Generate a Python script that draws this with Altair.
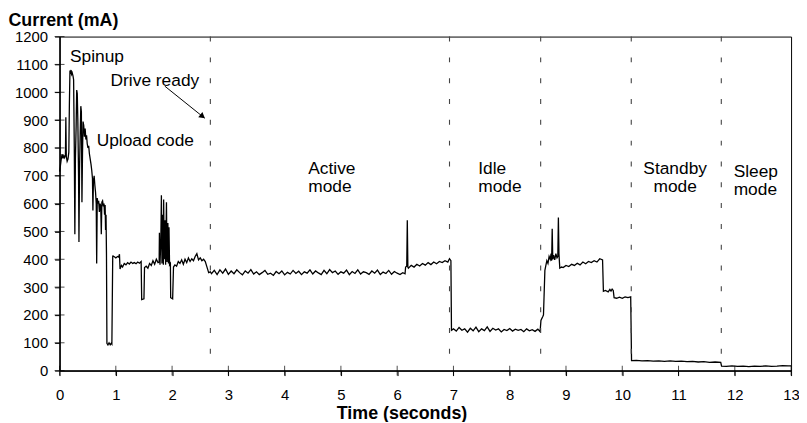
import altair as alt
import pandas as pd

# ---- measured trace (time in s, current in mA) ----
time_s = [
    0.000, 0.015, 0.030, 0.045, 0.060, 0.075, 0.090, 0.105, 0.112, 0.120,
    0.135, 0.150, 0.165, 0.175, 0.185, 0.195, 0.205, 0.215, 0.225, 0.240,
    0.250, 0.262, 0.272, 0.282, 0.295, 0.305, 0.315, 0.325, 0.338, 0.345,
    0.355, 0.368, 0.378, 0.388, 0.398, 0.408, 0.418, 0.430, 0.442, 0.455,
    0.468, 0.480, 0.492, 0.505, 0.518, 0.530, 0.545, 0.560, 0.572, 0.585,
    0.593, 0.602, 0.615, 0.628, 0.640, 0.652, 0.660, 0.670, 0.682, 0.695,
    0.708, 0.720, 0.732, 0.742, 0.752, 0.765, 0.778, 0.790, 0.800, 0.810,
    0.818, 0.826, 0.834, 0.842, 0.860, 0.880, 0.900, 0.918, 0.930, 0.945,
    0.950, 0.980, 1.000, 1.030, 1.050, 1.065, 1.075, 1.100, 1.120, 1.150,
    1.180, 1.210, 1.240, 1.270, 1.300, 1.330, 1.360, 1.390, 1.420, 1.450,
    1.460, 1.500, 1.510, 1.540, 1.570, 1.600, 1.630, 1.660, 1.690, 1.720,
    1.750, 1.770, 1.775, 1.785, 1.800, 1.810, 1.820, 1.830, 1.845, 1.850,
    1.860, 1.875, 1.885, 1.900, 1.910, 1.925, 1.935, 1.945, 1.955, 1.970,
    1.975, 2.010, 2.025, 2.050, 2.080, 2.110, 2.140, 2.170, 2.200, 2.230,
    2.260, 2.290, 2.320, 2.350, 2.380, 2.410, 2.440, 2.470, 2.500, 2.530,
    2.560, 2.590, 2.620, 2.650, 2.680,
    2.70, 2.75, 2.80, 2.85, 2.90, 2.95, 3.00, 3.05, 3.10, 3.15,
    3.20, 3.25, 3.30, 3.35, 3.40, 3.45, 3.50, 3.55, 3.60, 3.65,
    3.70, 3.75, 3.80, 3.85, 3.90, 3.95, 4.00, 4.05, 4.10, 4.15,
    4.20, 4.25, 4.30, 4.35, 4.40, 4.45, 4.50, 4.55, 4.60, 4.65,
    4.70, 4.75, 4.80, 4.85, 4.90, 4.95, 5.00, 5.05, 5.10, 5.15,
    5.20, 5.25, 5.30, 5.35, 5.40, 5.45, 5.50, 5.55, 5.60, 5.65,
    5.70, 5.75, 5.80, 5.85, 5.90, 5.95, 6.00, 6.05, 6.10, 6.14,
    6.15, 6.17, 6.18, 6.19, 6.20, 6.25, 6.30, 6.35, 6.40, 6.45,
    6.50, 6.55, 6.60, 6.65, 6.70, 6.75, 6.80, 6.85, 6.90, 6.93,
    6.955, 6.965,
    7.00, 7.05, 7.10, 7.15, 7.20, 7.25, 7.30, 7.35, 7.40, 7.45,
    7.50, 7.55, 7.60, 7.65, 7.70, 7.75, 7.80, 7.85, 7.90, 7.95,
    8.00, 8.05, 8.10, 8.15, 8.20, 8.25, 8.30, 8.35, 8.40, 8.45,
    8.50, 8.54,
    8.555, 8.590, 8.600, 8.625, 8.640, 8.660, 8.680, 8.700, 8.720, 8.735,
    8.745, 8.755, 8.765, 8.780, 8.800, 8.820, 8.840, 8.855, 8.865, 8.875,
    8.890, 8.920, 8.950, 9.000, 9.050, 9.100, 9.150, 9.200, 9.250, 9.300,
    9.350, 9.400, 9.450, 9.500, 9.550, 9.600, 9.650,
    9.665, 9.700, 9.750, 9.780, 9.800, 9.820, 9.840, 9.855, 9.900, 9.950,
    10.000, 10.050, 10.100, 10.150,
    10.165, 10.25, 10.35, 10.45, 10.55, 10.65, 10.75, 10.85, 10.95, 11.05,
    11.15, 11.25, 11.35, 11.45, 11.55, 11.65, 11.75,
    11.765, 11.85, 11.95, 12.05, 12.15, 12.25, 12.35, 12.45, 12.55, 12.65,
    12.75, 12.85, 12.95, 13.00,
]

current_ma = [
    715, 735, 760, 778, 762, 772, 765, 775, 910, 770,
    752, 760, 785, 960, 1078, 1072, 1080, 1065, 1070, 1058,
    1045, 800, 490, 760, 880, 1008, 995, 900, 700, 462,
    720, 860, 950, 930, 605, 780, 895, 880, 840, 870,
    830, 845, 815, 800, 808, 780, 760, 740, 720, 690,
    575, 680, 700, 665, 640, 600, 385, 620, 600, 610,
    570, 600, 590, 490, 605, 610, 590, 600, 560, 595,
    505, 560, 420, 98, 92, 100, 93, 98, 95, 410,
    412, 408, 405, 410, 408, 418, 365, 378, 372, 385,
    380, 388, 383, 390, 385, 388, 384, 390, 386, 392,
    255, 258, 370, 375, 368, 385, 378, 395, 382, 400,
    388, 390, 495, 380, 470, 630, 385, 560, 380, 615,
    400, 540, 380, 605, 390, 530, 385, 515, 380, 385,
    262, 258, 372, 380, 375, 392, 385, 398, 382, 400,
    388, 405, 392, 402, 395, 410, 420, 398, 405, 395,
    400, 392, 372, 352, 355,
    348, 360, 345, 362, 350, 365, 346, 358, 348, 362,
    352, 344, 358, 350, 363, 347, 355, 345, 352, 360,
    346, 350, 342, 356, 348, 358, 344, 353, 347, 360,
    349, 357, 345, 355, 350, 362, 347, 358, 351, 345,
    360, 348, 363, 352, 358, 346, 355, 350, 361, 345,
    356, 349, 362, 347, 355, 352, 346, 358, 350, 361,
    345, 354, 349, 360, 346, 356, 350, 345, 352, 348,
    372, 375, 540, 372, 368, 378, 372, 382, 376, 385,
    379, 388, 381, 390, 384, 392, 388, 395, 390, 402,
    395, 145,
    150, 142, 155, 145, 150, 138, 152, 143, 156, 140,
    150, 144, 157, 141, 152, 146, 150, 139, 148, 144,
    151, 142, 149, 145, 148, 140, 150, 143, 147, 141,
    149, 140,
    180, 195, 200, 360, 375, 395, 385, 410, 400, 420,
    395, 510, 400, 415, 398, 420, 405, 410, 550, 420,
    368, 372, 370, 378, 374, 382, 378, 386, 380, 390,
    384, 392, 388, 395, 390, 402, 398,
    285, 288, 283, 292, 286, 293, 288, 262, 260, 264,
    260, 265, 262, 265,
    36, 37, 35, 36, 34, 35, 33, 35, 33, 34,
    32, 33, 31, 32, 30, 31, 30,
    16, 15, 17, 15, 16, 14, 16, 15, 17, 15,
    16, 18, 17, 17,
]

x_ticks = list(range(0, 14))
y_ticks = list(range(0, 1300, 100))
mode_boundaries = [2.68, 6.93, 8.55, 10.16, 11.76]

left_labels = ["Spinup", "Drive ready", "Upload code",
               "Active", "mode", "Idle", "mode", "Sleep", "mode"]
left_t = [0.185, 0.907, 0.66, 4.42, 4.42, 7.44, 7.44, 11.98, 11.98]
left_v = [1108, 1022, 806, 706, 640, 706, 640, 695, 631]

center_labels = ["Standby", "mode"]
center_t = [10.94, 10.94]
center_v = [707, 643]

arrow_t = [1.87, 2.579]
arrow_v = [1022, 907]

FONT = "Liberation Sans"
W, H = 738, 337

xs = alt.Scale(domain=[0, 13], nice=False, zero=False)
ys = alt.Scale(domain=[0, 1200], nice=False)

df = pd.DataFrame({"t": time_s, "mA": current_ma})

x_axis = alt.Axis(
    values=x_ticks, format="d", title="Time (seconds)", grid=False,
    labelFont=FONT, labelFontSize=15, labelColor="black", labelPadding=12,
    labelFlush=False, labelOverlap=False,
    tickColor="black", tickSize=5, tickWidth=1,
    domainColor="black", domainWidth=1.5,
    titleFont=FONT, titleFontSize=18, titleFontWeight="bold", titleColor="black",
    titleX=345, titleY=48, titleAlign="center", titleBaseline="alphabetic",
)
y_axis = alt.Axis(
    values=y_ticks, format="d", title="Current (mA)", grid=False,
    labelFont=FONT, labelFontSize=15, labelColor="black", labelPadding=7,
    labelOverlap=False,
    tickColor="black", tickSize=5, tickWidth=1,
    domainColor="black", domainWidth=1.5,
    titleFont=FONT, titleFontSize=18, titleFontWeight="bold", titleColor="black",
    titleAngle=0, titleX=-52, titleY=-11, titleAlign="left",
    titleBaseline="alphabetic",
)

line = alt.Chart(df).mark_line(color="black", strokeWidth=1.3).encode(
    x=alt.X("t:Q", scale=xs, axis=x_axis),
    y=alt.Y("mA:Q", scale=ys, axis=y_axis),
)

dashed = alt.Chart(pd.DataFrame({"t": mode_boundaries})).mark_rule(
    color="#444444", strokeWidth=1.1, strokeDash=[5, 16]
).encode(
    x=alt.X("t:Q", scale=xs, axis=None),
    y=alt.YDatum(1200, scale=ys, axis=None),
    y2=alt.datum(40),
)

xt = alt.Chart(pd.DataFrame({"t": x_ticks})).mark_tick(
    orient="vertical", size=10, thickness=1, color="black"
).encode(x=alt.X("t:Q", scale=xs, axis=None), y=alt.YDatum(0, scale=ys, axis=None))

yt = alt.Chart(pd.DataFrame({"v": y_ticks})).mark_tick(
    orient="horizontal", size=10, thickness=1, color="black"
).encode(y=alt.Y("v:Q", scale=ys, axis=None), x=alt.XDatum(0, scale=xs, axis=None))

ltxt = alt.Chart(pd.DataFrame({"label": left_labels, "t": left_t, "v": left_v})).mark_text(
    align="left", baseline="alphabetic", font=FONT, fontSize=17.5, color="black"
).encode(
    x=alt.X("t:Q", scale=xs, axis=None),
    y=alt.Y("v:Q", scale=ys, axis=None),
    text="label:N",
)

ctxt = alt.Chart(pd.DataFrame({"label": center_labels, "t": center_t, "v": center_v})).mark_text(
    align="center", baseline="alphabetic", font=FONT, fontSize=17.5, color="black"
).encode(
    x=alt.X("t:Q", scale=xs, axis=None),
    y=alt.Y("v:Q", scale=ys, axis=None),
    text="label:N",
)

arrow_line = alt.Chart(pd.DataFrame({"t": [arrow_t[0]], "v": [arrow_v[0]],
                                     "t2": [arrow_t[1]], "v2": [arrow_v[1]]})).mark_rule(
    color="black", strokeWidth=1
).encode(
    x=alt.X("t:Q", scale=xs, axis=None),
    y=alt.Y("v:Q", scale=ys, axis=None),
    x2="t2:Q", y2="v2:Q",
)

arrow_head = alt.Chart(pd.DataFrame({"t": [arrow_t[1] - 0.05], "v": [arrow_v[1] + 8]})).mark_point(
    shape="triangle", filled=True, color="black", size=45, angle=129, opacity=1
).encode(x=alt.X("t:Q", scale=xs, axis=None), y=alt.Y("v:Q", scale=ys, axis=None))

chart = alt.layer(line, dashed, xt, yt, ltxt, ctxt, arrow_line, arrow_head).resolve_axis(
    x="independent", y="independent"
).properties(
    width=W, height=H,
    autosize=alt.AutoSizeParams(type="none"),
    padding={"left": 52, "top": 27, "right": 8, "bottom": 50},
    background="white",
).configure_view(stroke="black", strokeWidth=1)

chart.save("out.html", embed_options={"renderer": "svg", "actions": False})
